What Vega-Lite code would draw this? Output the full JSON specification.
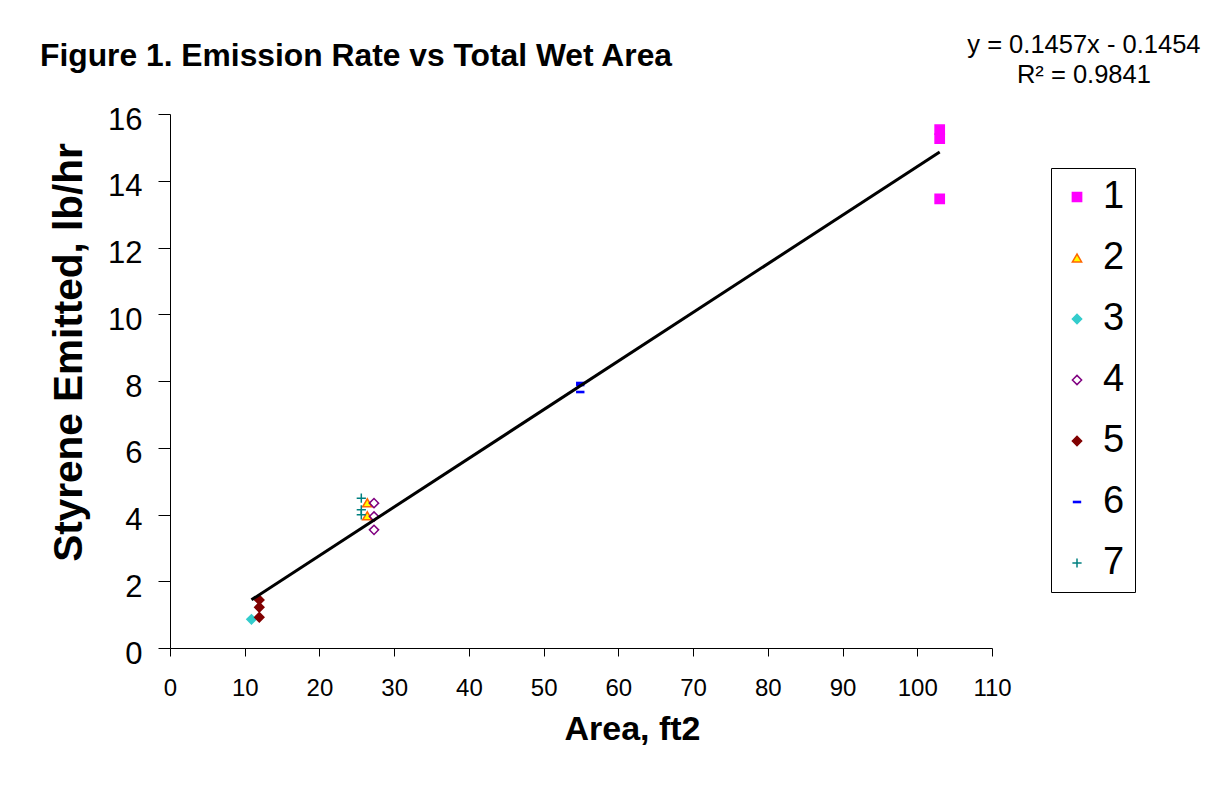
{
  "$schema": "https://vega.github.io/schema/vega-lite/v6.json",
  "width": 822,
  "height": 534,
  "autosize": {"type": "none"},
  "padding": {"left": 170, "top": 114, "right": 233, "bottom": 148},
  "background": "white",
  "config": {
    "view": {"stroke": null},
    "font": "Liberation Sans"
  },
  "title": {
    "text": "Figure 1. Emission Rate vs Total Wet Area",
    "anchor": "start",
    "frame": "group",
    "dx": -130,
    "offset": -65,
    "baseline": "alphabetic",
    "fontSize": 31.8,
    "fontWeight": "bold",
    "font": "Liberation Sans",
    "color": "black"
  },
  "layer": [
    {
      "data": {
        "values": [
          {"series": "1", "area": 103, "rate": 15.53},
          {"series": "1", "area": 103, "rate": 15.26},
          {"series": "1", "area": 103, "rate": 13.46},
          {"series": "2", "area": 26.4, "rate": 4.35},
          {"series": "2", "area": 26.4, "rate": 3.96},
          {"series": "3", "area": 10.9, "rate": 0.86},
          {"series": "4", "area": 27.3, "rate": 4.34},
          {"series": "4", "area": 27.3, "rate": 3.94},
          {"series": "4", "area": 27.3, "rate": 3.54},
          {"series": "5", "area": 11.95, "rate": 1.44},
          {"series": "5", "area": 11.95, "rate": 1.22},
          {"series": "5", "area": 11.95, "rate": 0.92},
          {"series": "6", "area": 54.9, "rate": 7.94},
          {"series": "6", "area": 54.9, "rate": 7.88},
          {"series": "6", "area": 54.9, "rate": 7.67},
          {"series": "7", "area": 25.6, "rate": 4.49},
          {"series": "7", "area": 25.6, "rate": 4.14},
          {"series": "7", "area": 25.6, "rate": 3.99}
        ]
      },
      "mark": {"type": "point", "filled": true, "opacity": 1, "size": 85, "strokeWidth": 1.5},
      "encoding": {
        "x": {
          "field": "area", "type": "quantitative",
          "scale": {"domain": [0, 110], "nice": false, "zero": false},
          "axis": {
            "title": "Area, ft2",
            "values": [0, 10, 20, 30, 40, 50, 60, 70, 80, 90, 100, 110],
            "grid": false,
            "tickSize": 8,
            "tickColor": "black",
            "domainColor": "black",
            "labelFont": "Liberation Sans",
            "labelFontSize": 24,
            "labelColor": "black",
            "labelPadding": 20,
            "labelFlush": false,
            "labelOverlap": false,
            "titleFont": "Liberation Sans",
            "titleFontSize": 34,
            "titleFontWeight": "bold",
            "titleColor": "black",
            "titleX": 462,
            "titleY": 91,
            "titleAlign": "center",
            "titleBaseline": "alphabetic"
          }
        },
        "y": {
          "field": "rate", "type": "quantitative",
          "scale": {"domain": [0, 16], "nice": false},
          "axis": {
            "title": "Styrene Emitted, lb/hr",
            "values": [0, 2, 4, 6, 8, 10, 12, 14, 16],
            "grid": false,
            "tickSize": 12,
            "tickColor": "black",
            "domainColor": "black",
            "labelFont": "Liberation Sans",
            "labelFontSize": 31,
            "labelColor": "black",
            "labelPadding": 16,
            "labelOffset": 6,
            "labelFlush": false,
            "labelOverlap": false,
            "titleFont": "Liberation Sans",
            "titleFontSize": 40.5,
            "titleFontWeight": "bold",
            "titleColor": "black",
            "titleX": -89,
            "titleY": 238,
            "titleAngle": -90,
            "titleAlign": "center",
            "titleBaseline": "alphabetic"
          }
        },
        "fill": {
          "field": "series", "type": "nominal",
          "scale": {"domain": ["1","2","3","4","5","6","7"], "range": ["#FF00FF", "#FFFF00", "#33CCCC", "transparent", "#800000", "#0000FF", "#008080"]},
          "legend": {"orient": "none", "legendX": 881, "legendY": 54, "title": null, "labelFont": "Liberation Sans", "labelFontSize": 38, "labelColor": "black", "symbolSize": 85, "symbolStrokeWidth": 1.5, "strokeColor": "black", "fillColor": "white", "padding": 10, "rowPadding": 23, "labelOffset": 7, "symbolOffset": -3}
        },
        "stroke": {
          "field": "series", "type": "nominal",
          "scale": {"domain": ["1","2","3","4","5","6","7"], "range": ["#FF00FF", "#FF6600", "#33CCCC", "#800080", "#800000", "#0000FF", "#008080"]},
          "legend": {"orient": "none", "legendX": 881, "legendY": 54, "title": null, "labelFont": "Liberation Sans", "labelFontSize": 38, "labelColor": "black", "symbolSize": 85, "symbolStrokeWidth": 1.5, "strokeColor": "black", "fillColor": "white", "padding": 10, "rowPadding": 23, "labelOffset": 7, "symbolOffset": -3}
        },
        "shape": {
          "field": "series", "type": "nominal",
          "scale": {"domain": ["1","2","3","4","5","6","7"], "range": ["square", "triangle-up", "diamond", "diamond", "diamond", "M-0.75,-0.12H0.75V0.12H-0.75Z", "M-1,0H1M0,-1V1"]},
          "legend": {"orient": "none", "legendX": 881, "legendY": 54, "title": null, "labelFont": "Liberation Sans", "labelFontSize": 38, "labelColor": "black", "symbolSize": 85, "symbolStrokeWidth": 1.5, "strokeColor": "black", "fillColor": "white", "padding": 10, "rowPadding": 23, "labelOffset": 7, "symbolOffset": -3}
        }
      }
    },
    {
      "data": {"values": [{"area": 10.9, "rate": 1.443}, {"area": 103, "rate": 14.862}]},
      "mark": {"type": "line", "color": "black", "strokeWidth": 3},
      "encoding": {
        "x": {"field": "area", "type": "quantitative"},
        "y": {"field": "rate", "type": "quantitative"}
      }
    },
    {
      "data": {"values": [{"label": "trend"}]},
      "mark": {"type": "text", "font": "Liberation Sans", "fontSize": 25.5, "lineHeight": 30, "align": "center", "baseline": "alphabetic", "color": "black"},
      "encoding": {
        "x": {"datum": 122.3, "type": "quantitative"},
        "y": {"datum": 17.84, "type": "quantitative"},
        "text": {"value": ["y = 0.1457x - 0.1454", "R² = 0.9841"]}
      }
    }
  ]
}
